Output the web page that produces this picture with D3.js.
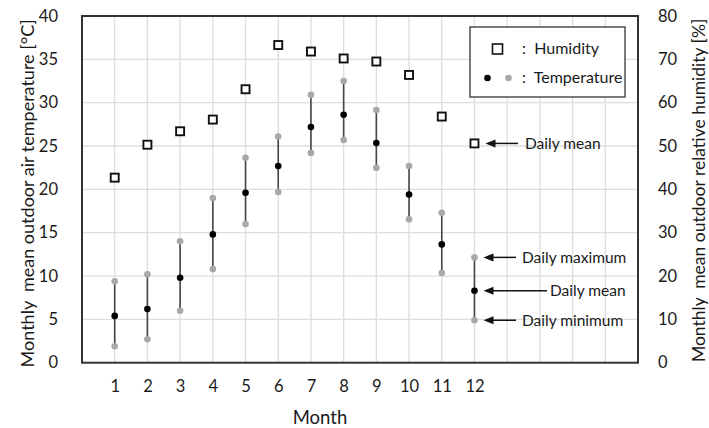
<!DOCTYPE html>
<html>
<head>
<meta charset="utf-8">
<script src="https://cdn.jsdelivr.net/npm/d3@7"></script>
<style>
  html, body { margin: 0; padding: 0; background: #fff; }
  svg { display: block; font-family: Lato, "Open Sans", sans-serif; }
</style>
</head>
<body>
<svg id="chart" width="709" height="428"></svg>
<script>
// Monthly climate data
const months = [1, 2, 3, 4, 5, 6, 7, 8, 9, 10, 11, 12];
const humidity = [42.7, 50.3, 53.4, 56.1, 63.1, 73.3, 71.8, 70.2, 69.5, 66.4, 56.8, 50.6];
const tempMean = [5.4, 6.2, 9.8, 14.8, 19.6, 22.7, 27.2, 28.6, 25.35, 19.4, 13.65, 8.3];
const tempMax = [9.4, 10.2, 14.0, 19.0, 23.65, 26.1, 30.9, 32.5, 29.15, 22.7, 17.3, 12.15];
const tempMin = [1.9, 2.7, 6.0, 10.8, 16.0, 19.7, 24.2, 25.7, 22.5, 16.55, 10.35, 4.9];
const tempTicks = [0, 5, 10, 15, 20, 25, 30, 35, 40];
const humTicks = [0, 10, 20, 30, 40, 50, 60, 70, 80];

const svg = d3.select("#chart");
const plotL = 82, plotR = 638, plotT = 16, plotB = 362.7;
const ink = "#1a1a1a";

const x = d3.scaleLinear().domain([0, 17]).range([plotL, plotR]);
const yT = d3.scaleLinear().domain([0, 40]).range([plotB, plotT]);
const yH = d3.scaleLinear().domain([0, 80]).range([plotB, plotT]);

// grid
const grid = svg.append("g").attr("stroke", "#dedede").attr("stroke-width", 1.3);
grid.selectAll("line.v").data(d3.range(1, 17)).join("line").attr("class", "v")
  .attr("x1", d => x(d)).attr("x2", d => x(d)).attr("y1", plotT).attr("y2", plotB);
grid.selectAll("line.h").data(tempTicks.slice(1, -1)).join("line").attr("class", "h")
  .attr("x1", plotL).attr("x2", plotR).attr("y1", d => yT(d)).attr("y2", d => yT(d));

// axes (labels only; frame drawn separately)
const axL = svg.append("g").attr("transform", `translate(${plotL},0)`)
  .call(d3.axisLeft(yT).tickValues(tempTicks).tickSize(0).tickPadding(24));
const axR = svg.append("g").attr("transform", `translate(${plotR},0)`)
  .call(d3.axisRight(yH).tickValues(humTicks).tickSize(0).tickPadding(20));
const axB = svg.append("g").attr("transform", `translate(0,${plotB})`)
  .call(d3.axisBottom(x).tickValues(months).tickSize(0).tickPadding(18));
[axL, axR, axB].forEach(a => {
  a.select(".domain").remove();
  a.selectAll("text").attr("font-size", 16.5).attr("fill", ink)
    .attr("font-family", "Lato, 'Open Sans', sans-serif");
});

// plot frame
svg.append("rect").attr("x", plotL).attr("y", plotT)
  .attr("width", plotR - plotL).attr("height", plotB - plotT)
  .attr("fill", "none").attr("stroke", "#333").attr("stroke-width", 2);

// axis titles
svg.append("text").attr("transform", `translate(27,${(plotT + plotB) / 2 + 4}) rotate(-90)`)
  .attr("text-anchor", "middle").attr("dominant-baseline", "central")
  .attr("font-size", 18).attr("fill", ink)
  .attr("xml:space", "preserve").style("white-space", "pre")
  .text("Monthly  mean outdoor air temperature [°C]");
svg.append("text").attr("transform", `translate(698,${(plotT + plotB) / 2 + 1}) rotate(-90)`)
  .attr("text-anchor", "middle").attr("dominant-baseline", "central")
  .attr("font-size", 17.5).attr("fill", ink)
  .attr("xml:space", "preserve").style("white-space", "pre")
  .text("Monthly  mean outdoor relative humidity [%]");
svg.append("text").attr("x", 320).attr("y", 424)
  .attr("text-anchor", "middle").attr("font-size", 18.5).attr("fill", ink).text("Month");

// temperature range bars
const idx = d3.range(months.length);
svg.append("g").selectAll("line").data(idx).join("line")
  .attr("x1", i => x(months[i])).attr("x2", i => x(months[i]))
  .attr("y1", i => yT(tempMin[i])).attr("y2", i => yT(tempMax[i]))
  .attr("stroke", "#444").attr("stroke-width", 1.6);
svg.append("g").selectAll("circle").data(idx).join("circle")
  .attr("cx", i => x(months[i])).attr("cy", i => yT(tempMax[i])).attr("r", 3.3).attr("fill", "#a8a8a8");
svg.append("g").selectAll("circle").data(idx).join("circle")
  .attr("cx", i => x(months[i])).attr("cy", i => yT(tempMin[i])).attr("r", 3.3).attr("fill", "#a8a8a8");
svg.append("g").selectAll("circle").data(idx).join("circle")
  .attr("cx", i => x(months[i])).attr("cy", i => yT(tempMean[i])).attr("r", 3.3).attr("fill", "#000");

// humidity squares
const sq = 8;
svg.append("g").selectAll("rect").data(idx).join("rect")
  .attr("x", i => x(months[i]) - sq / 2).attr("y", i => yH(humidity[i]) - sq / 2)
  .attr("width", sq).attr("height", sq)
  .attr("fill", "#fff").attr("stroke", "#111").attr("stroke-width", 1.9);

// legend
const lg = svg.append("g");
lg.append("rect").attr("x", 470).attr("y", 27).attr("width", 155).attr("height", 70)
  .attr("fill", "#fff").attr("stroke", "#333").attr("stroke-width", 1.3);
lg.append("rect").attr("x", 492.5).attr("y", 44).attr("width", 10).attr("height", 10)
  .attr("fill", "#fff").attr("stroke", "#111").attr("stroke-width", 1.6);
lg.append("circle").attr("cx", 487.5).attr("cy", 78).attr("r", 3.3).attr("fill", "#000");
lg.append("circle").attr("cx", 508.5).attr("cy", 78).attr("r", 3.3).attr("fill", "#a8a8a8");
lg.append("text").attr("x", 522).attr("y", 54).attr("font-size", 16).attr("fill", ink)
  .attr("xml:space", "preserve").style("white-space", "pre").text(":  Humidity");
lg.append("text").attr("x", 522).attr("y", 83).attr("font-size", 16).attr("fill", ink)
  .attr("xml:space", "preserve").style("white-space", "pre").text(":  Temperature");

// annotations
const last = months.length - 1;
const notes = [
  { label: "Daily mean", y: yH(humidity[last]), x0: x(months[last]) + 11, x1: 518, tx: 525 },
  { label: "Daily maximum", y: yT(tempMax[last]), x0: x(months[last]) + 9, x1: 516, tx: 522 },
  { label: "Daily mean", y: yT(tempMean[last]), x0: x(months[last]) + 9, x1: 547, tx: 550 },
  { label: "Daily minimum", y: yT(tempMin[last]), x0: x(months[last]) + 9, x1: 516, tx: 522 }
];
const ng = svg.append("g");
ng.selectAll("line").data(notes).join("line")
  .attr("x1", d => d.x1).attr("x2", d => d.x0 + 8).attr("y1", d => d.y).attr("y2", d => d.y)
  .attr("stroke", "#111").attr("stroke-width", 1.5);
ng.selectAll("path").data(notes).join("path")
  .attr("d", d => `M${d.x0},${d.y} L${d.x0 + 10},${d.y - 4} L${d.x0 + 10},${d.y + 4} Z`)
  .attr("fill", "#111");
ng.selectAll("text").data(notes).join("text")
  .attr("x", d => d.tx).attr("y", d => d.y).attr("dy", "0.35em")
  .attr("font-size", 15.5).attr("fill", ink).text(d => d.label);
</script>
</body>
</html>
